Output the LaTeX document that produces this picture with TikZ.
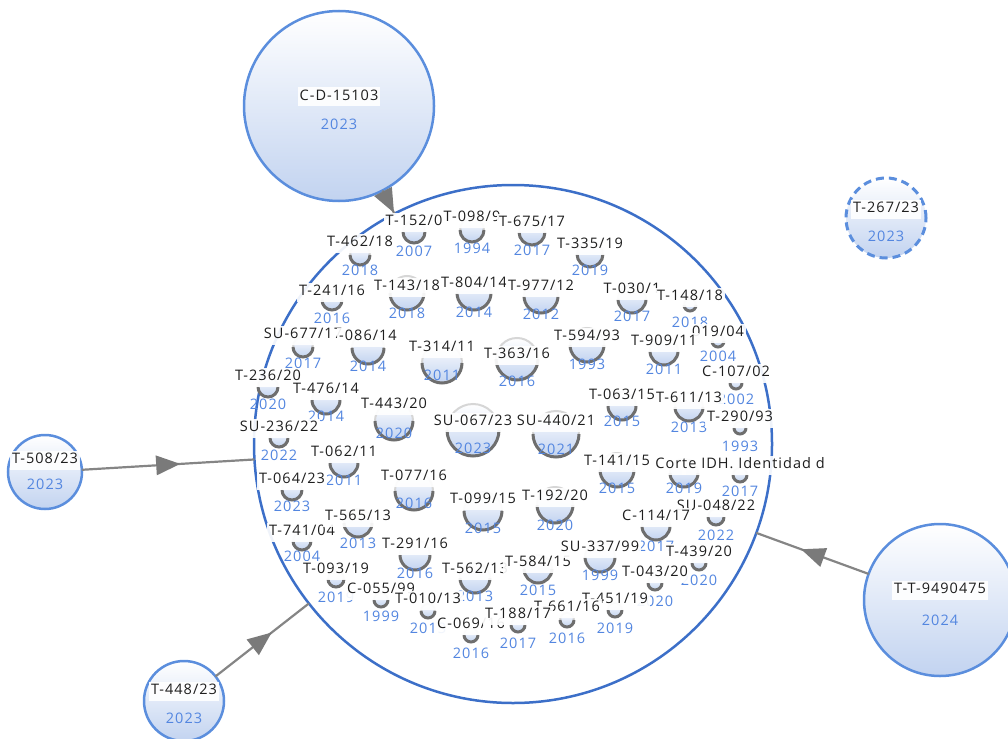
\documentclass[tikz,border=0pt]{standalone}
\usepackage{fontspec}
\newfontfamily\lf{Open Sans}[LetterSpace=7]
\usetikzlibrary{decorations.markings}
\definecolor{bigblue}{HTML}{3C6FC8}
\definecolor{nodeblue}{HTML}{5B8EDD}
\definecolor{yearblue}{HTML}{5386E0}
\definecolor{fillblue}{HTML}{C2D3F0}
\definecolor{arcgray}{HTML}{6E6E6E}
\definecolor{linegray}{HTML}{858585}
\definecolor{headgray}{HTML}{7A7A7A}
\definecolor{txt}{HTML}{1E1E1E}
\tikzset{
  lab/.style={fill=white, fill opacity=0.92, text opacity=1, text=txt, inner xsep=2, inner ysep=2,
    text height=11, text depth=4, font=\lf\fontsize{14.5}{16}\selectfont},
  yr/.style={text=yearblue, inner sep=0, text height=11, text depth=4, font=\lf\fontsize{14.5}{16}\selectfont},
  knode/.style={circle, inner sep=0, outer sep=0, top color=white, bottom color=fillblue, draw=black!16, line width=2},
  karc/.style={draw=arcgray, line width=3},
  bignode/.style={circle, inner sep=0, outer sep=0, top color=white, bottom color=fillblue, draw=nodeblue, line width=2.5},
  conn/.style={draw=linegray, line width=2.2, postaction={decorate},
    decoration={markings, mark=at position 0.5 with {\fill[headgray] (12pt,0pt) -- (-12pt,10pt) -- (-12pt,-10pt) -- cycle;}}},
}
\def\knodes{%
414/243/11/222/253/{T-152/0}/2007,
472/242/12/218/250/{T-098/9}/1994,
532/245/13/223/252/{T-675/17}/2017,
590/267/13/245/272/{T-335/19}/2019,
360/265/10/243/272/{T-462/18}/2018,
332/310/10/292/320/{T-241/16}/2016,
407/310/17/287/315/{T-143/18}/2018,
474/310/17/284/314/{T-804/14}/2014,
541/313/17/287/316/{T-977/12}/2012,
632/313/14/290/318/{T-030/1}/2017,
690/311/6/297/324/{T-148/18}/2018,
718/347/6/333/358/{019/04}/2004,
303/357/10/335/365/{SU-677/17}/2017,
368/364/16/337/368/{-086/14}/2014,
442/383/20/348/377/{T-314/11}/2011,
517/380/21/355/383/{T-363/16}/2016,
587/362/17/337/366/{T-594/93}/1993,
664/365/14/342/371/{T-909/11}/2011,
736/389/6/373/401/{C-107/02}/2002,
268/397/10/377/406/{T-236/20}/2020,
326/414/14/390/418/{T-476/14}/2014,
394/440/19/405/435/{T-443/20}/2020,
473/456/26/422/450/{SU-067/23}/2023,
556/457/23/422/451/{SU-440/21}/2021,
622/420/14/396/423/{T-063/15}/2015,
689/421/14/399/429/{T-611/13}/2013,
740/434/6/418/448/{T-290/93}/1993,
279/447/9/428/457/{SU-236/22}/2022,
344/477/14/453/482/{T-062/11}/2011,
292/500/10/480/508/{T-064/23}/2023,
414/510/19/477/505/{T-077/16}/2016,
483/530/19/500/530/{T-099/15}/2015,
555/523/18/497/527/{T-192/20}/2020,
617/487/17/462/490/{T-141/15}/2015,
684/487/14/465/490/{}/2019,
740/482/7/465/493/{Corte IDH. Identidad d}/2017,
716/525/8/507/537/{SU-048/22}/2022,
656/540/14/517/548/{C-114/17}/2017,
302/550/9/532/558/{T-741/04}/2004,
358/537/14/517/545/{T-565/13}/2013,
415/570/15/545/575/{T-291/16}/2016,
336/587/8/570/599/{T-093/19}/2019,
381/607/7/590/618/{C-055/99}/1999,
428/618/7/600/630/{T-010/13}/2013,
475/593/15/570/598/{T-562/13}/2013,
471/642/7/625/655/{C-069/16}/2016,
538/583/14/563/592/{T-584/15}/2015,
600/572/15/548/577/{SU-337/99}/1999,
699/570/7/553/582/{T-439/20}/2020,
655/590/7/573/603/{T-043/20}/2020,
615/617/7/600/630/{T-451/19}/2019,
567/627/7/608/640/{T-661/16}/2016,
518/632/7/615/645/{T-188/17}/2017}
\begin{document}
\begin{tikzpicture}[x=1pt,y=-1pt]
\useasboundingbox (0,0) rectangle (1008,738);
% outer nodes
\node[bignode, minimum size=190] (cd) at (339,106) {};
\node[bignode, minimum size=80, dash pattern=on 8pt off 5pt, line width=3] (t267) at (886,218) {};
\node[bignode, minimum size=74] (t508) at (45,472) {};
\node[bignode, minimum size=80] (t448) at (184,701) {};
\node[bignode, minimum size=152] (ttn) at (940,600) {};
% the big circle
\node[circle, draw=bigblue, line width=2.5, fill=white, minimum size=518, inner sep=0, outer sep=0] (big) at (513,444) {};
% connectors
\draw[conn] (cd) -- (big);
\draw[conn] (t508) -- (big);
\draw[conn] (t448) -- (big);
\draw[conn] (ttn) -- (big);
% texts of outer nodes
\node[lab] (cdl) at (339,97) {C-D-15103};
\node[yr] (cdy) at (339,126) {2023};
\node[lab] (t267l) at (886,209) {T-267/23};
\node[yr] (t267y) at (886,238) {2023};
\node[lab] (t508l) at (45,460) {T-508/23};
\node[yr] (t508y) at (45,486) {2023};
\node[lab] (t448l) at (184,691) {T-448/23};
\node[yr] (t448y) at (184,720) {2023};
\node[lab] (ttnl) at (940,590) {T-T-9490475};
\node[yr] (ttny) at (940,622) {2024};
% small nodes inside
\foreach \cx/\b/\r/\ly/\yy/\lab/\yr [count=\i] in \knodes {
  \node[knode, minimum size=2*\r] (k\i) at (\cx,\b-\r) {};
  \draw[karc] (k\i.east) arc (0:180:\r);
}
\foreach \cx/\b/\r/\ly/\yy/\lab/\yr [count=\i] in \knodes {
  \node[yr] (ky\i) at (\cx,\yy) {\yr};
}
\foreach \cx/\b/\r/\ly/\yy/\lab/\yr [count=\i] in \knodes {
  \node[lab] (kl\i) at (\cx,\ly) {\lab};
}
\end{tikzpicture}
\end{document}
